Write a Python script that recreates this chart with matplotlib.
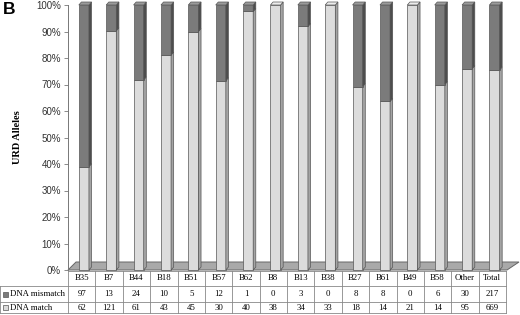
import matplotlib
matplotlib.use("Agg")
import matplotlib.pyplot as plt
from matplotlib.patches import Polygon
from matplotlib.transforms import blended_transform_factory
import numpy as np

categories = ["B35", "B7", "B44", "B18", "B51", "B57", "B62", "B8", "B13",
              "B38", "B27", "B61", "B49", "B58", "Other", "Total"]
mismatch = [97, 13, 24, 10, 5, 12, 1, 0, 3, 0, 8, 8, 0, 6, 30, 217]
match = [62, 121, 61, 43, 45, 30, 40, 38, 34, 33, 18, 14, 21, 14, 95, 669]
series_names = ["DNA mismatch", "DNA match"]

W, H = 520, 315
fig = plt.figure(figsize=(W / 100, H / 100), dpi=100)

# pixel layout
x0, x1 = 68, 506
y_top, y_bot = 5, 270
ax = fig.add_axes([x0 / W, (H - y_bot) / H, (x1 - x0) / W, (y_bot - y_top) / H])
ax.set_xlim(-0.5, len(categories) - 0.5)
ax.set_ylim(0, 100)

c_mis, c_mis_side, c_mis_top = "#7b7b7b", "#4d4d4d", "#9a9a9a"
c_mat, c_mat_side, c_mat_top = "#dcdcdc", "#a4a4a4", "#ececec"
edge = "#555555"

px_x = (x1 - x0) / len(categories)
px_y = (y_bot - y_top) / 100.0
dx = 2.6 / px_x
dy = 3.0 / px_y
bw = 0.37
shift = 0.08

# floor
floor = Polygon([(-0.5, 0), (len(categories) - 0.5 + 1.0 / px_x, 0),
                 (len(categories) - 0.5 + 13.0 / px_x, 8.0 / px_y),
                 (-0.5 + 8.0 / px_x, 8.0 / px_y)],
                closed=True, facecolor="#a9a9a9", edgecolor="#666666",
                lw=0.7, clip_on=False, zorder=1)
ax.add_patch(floor)

mis = np.array(mismatch, float)
mat = np.array(match, float)
tot = mis + mat
p_mat = mat / tot * 100
p_mis = mis / tot * 100


def box(xc, b, t, face, side, top, show_top):
    xa, xb = xc - bw / 2, xc + bw / 2
    if t - b <= 0:
        return
    ax.add_patch(Polygon([(xa, b), (xb, b), (xb, t), (xa, t)], closed=True,
                         facecolor=face, edgecolor=edge, lw=0.5,
                         clip_on=False, zorder=3))
    ax.add_patch(Polygon([(xb, b), (xb + dx, b + dy), (xb + dx, t + dy), (xb, t)],
                         closed=True, facecolor=side, edgecolor=edge, lw=0.5,
                         clip_on=False, zorder=3))
    if show_top:
        ax.add_patch(Polygon([(xa, t), (xb, t), (xb + dx, t + dy), (xa + dx, t + dy)],
                             closed=True, facecolor=top, edgecolor=edge, lw=0.5,
                             clip_on=False, zorder=3))


for i in range(len(categories)):
    xc = i + shift
    box(xc, 0, p_mat[i], c_mat, c_mat_side, c_mat_top, p_mis[i] == 0)
    box(xc, p_mat[i], 100, c_mis, c_mis_side, c_mis_top, True)

for s in ["top", "right", "bottom"]:
    ax.spines[s].set_visible(False)
ax.spines["left"].set_color("#777777")
ax.spines["left"].set_linewidth(0.7)
ax.set_xticks([])
ax.set_yticks(np.arange(0, 101, 10))
ax.set_yticklabels([f"{v}%" for v in range(0, 101, 10)],
                   fontfamily="Liberation Sans", fontsize=7, color="#333333")
ax.tick_params(axis="y", length=3, width=0.6, color="#777777", pad=2)

# panel label and y label
fig.text(3 / W, 1 - 9 / H, "B", fontfamily="Liberation Sans", fontweight="bold",
         fontsize=12.5, va="center", ha="left")
fig.text(18 / W, 1 - 137 / H, "URD Alleles", fontfamily="Liberation Serif",
         fontweight="bold", fontsize=7.5, rotation=90, va="center", ha="center")

# data table
tr = blended_transform_factory(ax.transData, fig.transFigure)
def fy(p):
    return 1 - p / H

row_lines = [271, 286, 302, 313]
left = -0.5 - x0 / px_x
right = len(categories) - 0.5
lc = "#888888"
ax.plot([-0.5, right], [fy(271), fy(271)], transform=tr, color=lc, lw=0.6, clip_on=False)
for yy in row_lines[1:]:
    ax.plot([left, right], [fy(yy), fy(yy)], transform=tr, color=lc, lw=0.6, clip_on=False)
ax.plot([left, left], [fy(286), fy(313)], transform=tr, color=lc, lw=0.6, clip_on=False)
for i in range(len(categories) + 1):
    ax.plot([i - 0.5, i - 0.5], [fy(271), fy(313)], transform=tr, color=lc,
            lw=0.6, clip_on=False)

tkw = dict(transform=tr, fontfamily="Liberation Serif", fontsize=6.3,
           ha="center", va="center", clip_on=False)
for i, c in enumerate(categories):
    ax.text(i, fy(278.5), c, **tkw)
    ax.text(i, fy(294.5), str(mismatch[i]), **tkw)
    ax.text(i, fy(307.5), str(match[i]), **tkw)

for yy, name, fc in [(294.5, series_names[0], c_mis), (307.5, series_names[1], c_mat)]:
    ax.add_patch(Polygon([(left + 3 / px_x, fy(yy - 2.5)), (left + 8 / px_x, fy(yy - 2.5)),
                          (left + 8 / px_x, fy(yy + 2.5)), (left + 3 / px_x, fy(yy + 2.5))],
                         closed=True, transform=tr, facecolor=fc, edgecolor="#555555",
                         lw=0.5, clip_on=False))
    ax.text(left + 10.5 / px_x, fy(yy), name, transform=tr, fontfamily="Liberation Serif",
            fontsize=6.3, ha="left", va="center", clip_on=False)

fig.savefig("out.png", dpi=100)
